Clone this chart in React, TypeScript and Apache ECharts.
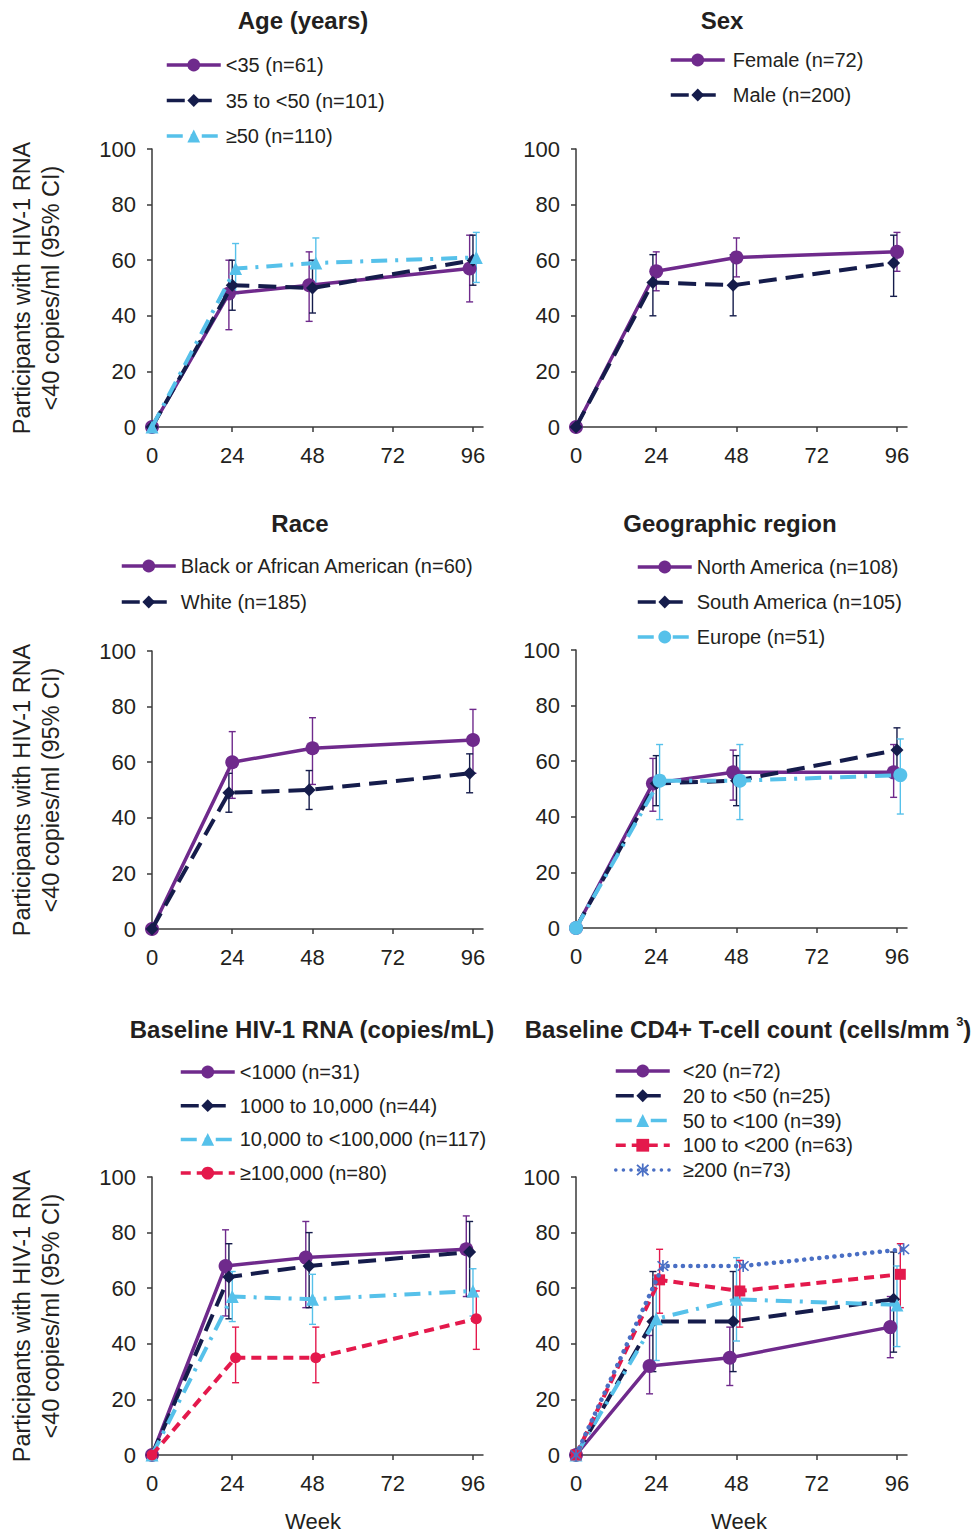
import React, { useEffect, useRef } from "react";
import * as echarts from "echarts";

// ---------- data ----------
const WEEKS = [0, 24, 48, 96];
const X_TICKS = [0, 24, 48, 72, 96];

const ageGroups = ["<35 (n=61)", "35 to <50 (n=101)", "≥50 (n=110)"];
const ageRate = [[0, 48, 51, 57], [0, 51, 50, 60], [0, 57, 59, 61]];
const ageLow = [[null, 35, 38, 45], [null, 42, 41, 51], [null, 48, 50, 52]];
const ageHigh = [[null, 60, 63, 69], [null, 60, 60, 69], [null, 66, 68, 70]];

const sexGroups = ["Female (n=72)", "Male (n=200)"];
const sexRate = [[0, 56, 61, 63], [0, 52, 51, 59]];
const sexLow = [[null, 49, 54, 56], [null, 40, 40, 47]];
const sexHigh = [[null, 63, 68, 70], [null, 62, 62, 69]];

const raceGroups = ["Black or African American (n=60)", "White (n=185)"];
const raceRate = [[0, 60, 65, 68], [0, 49, 50, 56]];
const raceLow = [[null, 47, 52, 56], [null, 42, 43, 49]];
const raceHigh = [[null, 71, 76, 79], [null, 56, 57, 63]];

const regionGroups = ["North America (n=108)", "South America (n=105)", "Europe (n=51)"];
const regionRate = [[0, 52, 56, 56], [0, 52, 53, 64], [0, 53, 53, 55]];
const regionLow = [[null, 42, 46, 47], [null, 44, 44, 55], [null, 39, 39, 41]];
const regionHigh = [[null, 61, 64, 66], [null, 62, 62, 72], [null, 66, 66, 68]];

const rnaGroups = ["<1000 (n=31)", "1000 to 10,000 (n=44)", "10,000 to <100,000 (n=117)", "≥100,000 (n=80)"];
const rnaRate = [[0, 68, 71, 74], [0, 64, 68, 73], [0, 57, 56, 59], [0, 35, 35, 49]];
const rnaLow = [[null, 50, 53, 57], [null, 49, 53, 57], [null, 48, 47, 50], [null, 26, 26, 38]];
const rnaHigh = [[null, 81, 84, 86], [null, 76, 80, 84], [null, 66, 65, 67], [null, 46, 46, 59]];

const cd4Groups = ["<20 (n=72)", "20 to <50 (n=25)", "50 to <100 (n=39)", "100 to <200 (n=63)", "≥200 (n=73)"];
const cd4Rate = [[0, 32, 35, 46], [0, 48, 48, 56], [0, 49, 56, 54], [0, 63, 59, 65], [0, 68, 68, 74]];
const cd4Low = [[null, 22, 25, 35], [null, 30, 30, 37], [null, 34, 41, 39], [null, 51, 46, 53], null];
const cd4High = [[null, 43, 46, 57], [null, 66, 66, 73], [null, 64, 71, 68], [null, 74, 70, 76], null];

// ---------- styles ----------
const FONT = "'Liberation Sans', Arial, Helvetica, sans-serif";
const TEXT = "#231f20";
const AXIS = "#3a3a3a";
const PURPLE = "#6f2a8c";
const NAVY = "#151c4b";
const CYAN = "#56c1ea";
const RED = "#e4194c";
const BLUE = "#4a6fc4";
const ASTERISK =
  "path://M4.4,0L5.6,0L5.6,10L4.4,10Z M0.6,1.5L1.5,0.6L9.4,8.5L8.5,9.4Z M8.5,0.6L9.4,1.5L1.5,9.4L0.6,8.5Z";

const STYLES: any = {
  purple: { color: PURPLE, type: "solid", width: 3.5, symbol: "circle", size: 14 },
  navy: { color: NAVY, type: [18, 9], width: 4, symbol: "diamond", size: 13 },
  cyanTri: { color: CYAN, type: [16, 8, 3, 8], width: 4, symbol: "triangle", size: 13 },
  cyanCircle: { color: CYAN, type: [16, 8, 3, 8], width: 4, symbol: "circle", size: 14 },
  redCircle: { color: RED, type: [10, 6], width: 4, symbol: "circle", size: 11 },
  redSquare: { color: RED, type: [10, 6], width: 4, symbol: "rect", size: 11 },
  blue: { color: BLUE, type: [0.1, 7.5], width: 4.5, symbol: ASTERISK, size: 12, cap: "round" },
};

const panels = [
  { title: "Age (years)", tx: 303, ty: 20, left: 152, top: 149, names: ageGroups, rate: ageRate, low: ageLow, high: ageHigh,
    styles: ["purple", "navy", "cyanTri"], offsets: [-1, 0, 1], lx: 165, ly: 55, lgap: 15.5, tpad: 0 },
  { title: "Sex", tx: 722, ty: 20, left: 576, top: 149, names: sexGroups, rate: sexRate, low: sexLow, high: sexHigh,
    styles: ["purple", "navy"], offsets: [0, -1], lx: 669, ly: 50, lgap: 15, tpad: 3 },
  { title: "Race", tx: 300, ty: 523, left: 152, top: 651, names: raceGroups, rate: raceRate, low: raceLow, high: raceHigh,
    styles: ["purple", "navy"], offsets: [0, -1], lx: 120, ly: 556, lgap: 16, tpad: 0 },
  { title: "Geographic region", tx: 730, ty: 523, left: 576, top: 650, names: regionGroups, rate: regionRate, low: regionLow, high: regionHigh,
    styles: ["purple", "navy", "cyanCircle"], offsets: [-1, 0, 1], lx: 636, ly: 557, lgap: 15, tpad: 0 },
  { title: "Baseline HIV-1 RNA (copies/mL)", tx: 312, ty: 1029, left: 152, top: 1177, names: rnaGroups, rate: rnaRate, low: rnaLow, high: rnaHigh,
    styles: ["purple", "navy", "cyanTri", "redCircle"], offsets: [-2, -1, 0, 1], lx: 179, ly: 1062, lgap: 13.7, tpad: 0 },
  { title: "", tx: 748, ty: 1029, left: 576, top: 1177, names: cd4Groups, rate: cd4Rate, low: cd4Low, high: cd4High,
    styles: ["purple", "navy", "cyanTri", "redSquare", "blue"], offsets: [-2, -1, 0, 1, 2], lx: 614, ly: 1061, lgap: 4.75, tpad: 8 },
];

const GRID_W = 331;
const GRID_H = 278;

function buildOption() {
  const series: any[] = [];
  panels.forEach((p, pi) => {
    p.names.forEach((name, si) => {
      const st = STYLES[p.styles[si]];
      const off = p.offsets[si];
      series.push({
        type: "line",
        name,
        xAxisIndex: pi,
        yAxisIndex: pi,
        data: WEEKS.map((w, j) => [w + (w > 0 ? off : 0), p.rate[si][j]]),
        symbol: st.symbol,
        symbolSize: st.size,
        showAllSymbol: true,
        itemStyle: { color: st.color },
        lineStyle: { color: st.color, width: st.width, type: st.type, cap: st.cap || "butt" },
        z: 3 + si,
        silent: true,
      });
      const lo = p.low[si];
      const hi = p.high[si];
      if (lo && hi) {
        const color = st.color;
        series.push({
          type: "custom",
          name: `ci-${pi}-${si}`,
          xAxisIndex: pi,
          yAxisIndex: pi,
          z: 2,
          silent: true,
          encode: { x: 0, y: [1, 2] },
          data: WEEKS.map((w, j) => [w + (w > 0 ? off : 0), lo[j], hi[j]]).filter((d) => d[1] != null),
          renderItem: (params: any, api: any) => {
            const x = api.value(0);
            const top = api.coord([x, api.value(2)]);
            const bot = api.coord([x, api.value(1)]);
            const w = 3.5;
            const s = { stroke: color, lineWidth: 1.4 };
            return {
              type: "group",
              children: [
                { type: "line", shape: { x1: top[0], y1: top[1], x2: bot[0], y2: bot[1] }, style: s },
                { type: "line", shape: { x1: top[0] - w, y1: top[1], x2: top[0] + w, y2: top[1] }, style: s },
                { type: "line", shape: { x1: bot[0] - w, y1: bot[1], x2: bot[0] + w, y2: bot[1] }, style: s },
              ],
            };
          },
        });
      }
    });
  });

  const graphic: any[] = [];
  panels.forEach((p) => {
    if (p.title) {
      graphic.push({
        type: "text",
        x: p.tx,
        y: p.ty,
        style: { text: p.title, fill: TEXT, font: `bold 24px ${FONT}`, align: "center", verticalAlign: "middle" },
      });
    }
  });
  graphic.push({
    type: "text",
    x: 748,
    y: 1029,
    style: {
      text: "{t|Baseline CD4+ T-cell count (cells/mm }{s|3}{t|)}",
      align: "center",
      verticalAlign: "middle",
      rich: {
        t: { fontSize: 24, fontWeight: "bold", fontFamily: FONT, fill: TEXT, lineHeight: 28 },
        s: { fontSize: 13, fontWeight: "bold", fontFamily: FONT, fill: TEXT, verticalAlign: "top", lineHeight: 14 },
      },
    },
  });
  [288, 790, 1316].forEach((cy) => {
    graphic.push({
      type: "text", x: 22, y: cy, rotation: Math.PI / 2,
      style: { text: "Participants with HIV-1 RNA", fill: TEXT, font: `23.5px ${FONT}`, align: "center", verticalAlign: "middle" },
    });
    graphic.push({
      type: "text", x: 51, y: cy, rotation: Math.PI / 2,
      style: { text: "<40 copies/ml (95% CI)", fill: TEXT, font: `23.5px ${FONT}`, align: "center", verticalAlign: "middle" },
    });
  });
  [313, 739].forEach((x) => {
    graphic.push({
      type: "text", x, y: 1521,
      style: { text: "Week", fill: TEXT, font: `22px ${FONT}`, align: "center", verticalAlign: "middle" },
    });
  });

  return {
    animation: false,
    backgroundColor: "#ffffff",
    grid: panels.map((p) => ({ left: p.left, top: p.top, width: GRID_W, height: GRID_H })),
    xAxis: panels.map((p, i) => ({
      type: "value",
      gridIndex: i,
      min: 0,
      max: 99,
      axisLine: { show: true, onZero: false, lineStyle: { color: AXIS, width: 1.5 } },
      axisTick: { show: true, length: 5, customValues: X_TICKS, lineStyle: { color: AXIS, width: 1.5 } },
      axisLabel: { show: true, customValues: X_TICKS, color: TEXT, fontSize: 22, fontFamily: FONT, margin: 17 },
      splitLine: { show: false },
    })),
    yAxis: panels.map((p, i) => ({
      type: "value",
      gridIndex: i,
      min: 0,
      max: 100,
      interval: 20,
      axisLine: { show: true, onZero: false, lineStyle: { color: AXIS, width: 1.5 } },
      axisTick: { show: true, length: 5, lineStyle: { color: AXIS, width: 1.5 } },
      axisLabel: { show: true, color: TEXT, fontSize: 22, fontFamily: FONT, margin: 16 },
      splitLine: { show: false },
    })),
    legend: panels.map((p) => ({
      data: p.names.map((name, si) => {
        const st = STYLES[p.styles[si]];
        return { name, lineStyle: { width: Math.min(st.width, 3.5), color: st.color, type: st.type, cap: st.cap || "butt" } };
      }),
      orient: "vertical",
      left: p.lx,
      top: p.ly,
      itemWidth: 54,
      itemHeight: 16,
      itemGap: p.lgap,
      selectedMode: false,
      padding: 0,
      textStyle: { color: TEXT, fontSize: 20, fontFamily: FONT, lineHeight: 20, padding: [0, 0, 0, p.tpad] },
    })),
    series,
    graphic,
  };
}

export default function App() {
  const ref = useRef<HTMLDivElement>(null);
  useEffect(() => {
    document.body.style.margin = "0";
    if (!ref.current) return;
    const chart = echarts.init(ref.current, undefined, { renderer: "svg" });
    chart.setOption(buildOption() as any);
    return () => chart.dispose();
  }, []);
  return <div ref={ref} style={{ width: 974, height: 1534, position: "absolute", left: 0, top: 0 }} />;
}
